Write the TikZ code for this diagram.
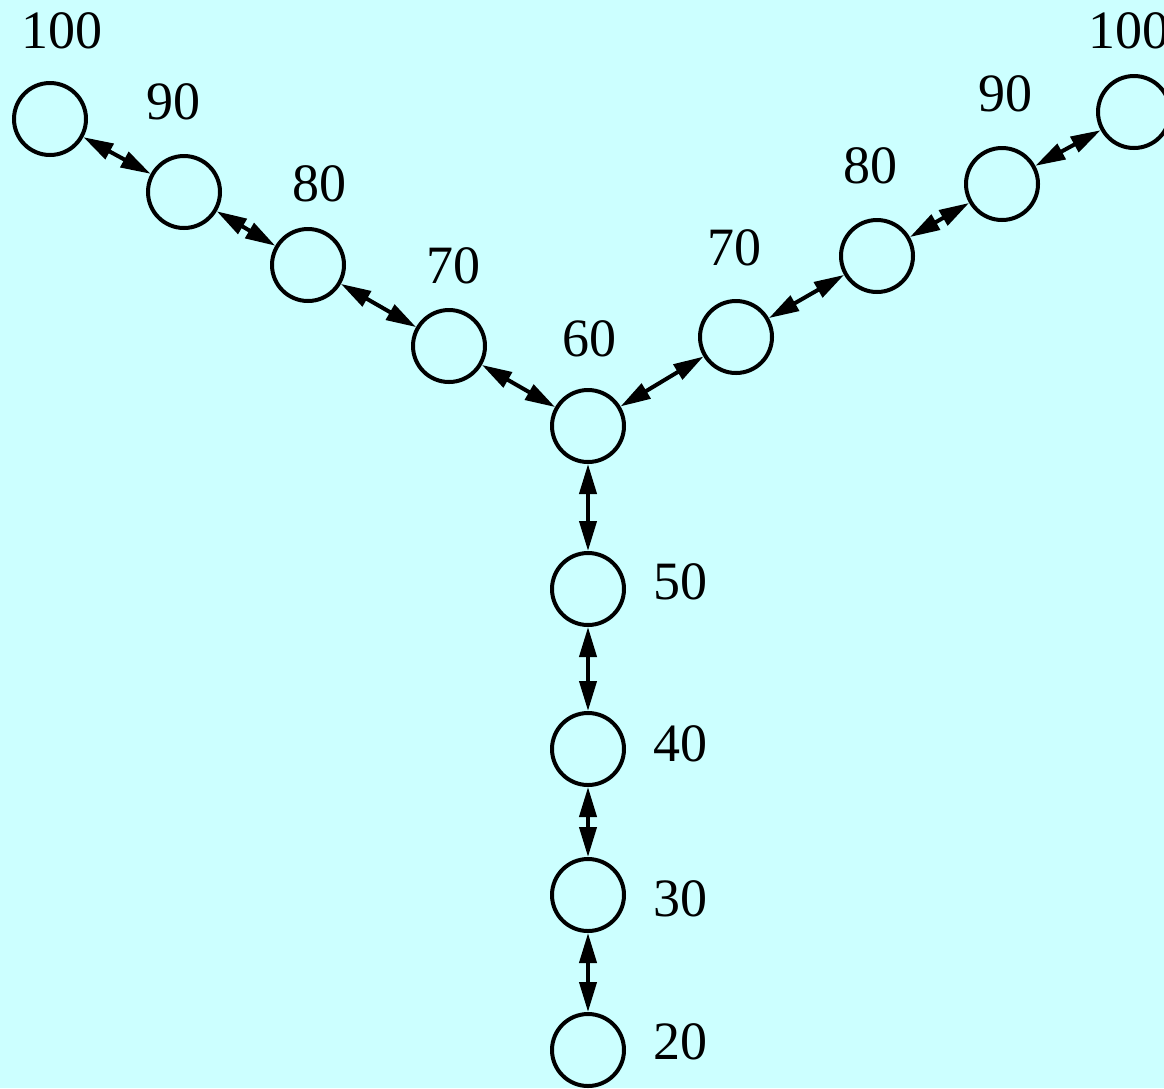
\documentclass[tikz,border=0pt]{standalone}
\usepackage{fontspec}
\setmainfont{Liberation Serif}
\usetikzlibrary{arrows.meta}
\definecolor{bgcyan}{HTML}{CCFFFF}
\tikzset{
  vtx/.style={circle,draw=black,line width=4pt,minimum size=72pt,inner sep=0pt},
  lbl/.style={inner sep=0pt,font=\fontsize{54}{60}\selectfont},
  link/.style={line width=4pt,{Triangle[length=30pt,width=17pt]}-{Triangle[length=30pt,width=17pt]}}
}
\begin{document}
\begin{tikzpicture}[x=1pt,y=-1pt]
\fill[bgcyan] (0,0) rectangle (1164,1088);
\useasboundingbox (0,0) rectangle (1164,1088);
% left branch
\node[vtx] (l100) at (50,119) {};
\node[vtx] (l90) at (184,192) {};
\node[vtx] (l80) at (308,265) {};
\node[vtx] (l70) at (449,346) {};
\node[vtx] (c60) at (588,426) {};
% right branch
\node[vtx] (r70) at (736,337) {};
\node[vtx] (r80) at (877,256) {};
\node[vtx] (r90) at (1002,184) {};
\node[vtx] (r100) at (1134,112) {};
% stem
\node[vtx] (s50) at (588,589) {};
\node[vtx] (s40) at (588,749) {};
\node[vtx] (s30) at (588,895) {};
\node[vtx] (s20) at (588,1050) {};
% labels
\node[lbl] (tl100) at (62,31) {100};
\node[lbl] (tl90) at (173,102) {90};
\node[lbl] (tl80) at (319,184) {80};
\node[lbl] (tl70) at (453,266) {70};
\node[lbl] (t60) at (589,339) {60};
\node[lbl] (tr70) at (734,248) {70};
\node[lbl] (tr80) at (870,166) {80};
\node[lbl] (tr90) at (1005,94) {90};
\node[lbl] (tr100) at (1129,31) {100};
\node[lbl] (t50) at (680,582) {50};
\node[lbl] (t40) at (680,744) {40};
\node[lbl] (t30) at (680,899) {30};
\node[lbl] (t20) at (680,1042) {20};
% connectors
\draw[link] (l100) -- (l90);
\draw[link] (l90) -- (l80);
\draw[link] (l80) -- (l70);
\draw[link] (l70) -- (c60);
\draw[link] (c60) -- (r70);
\draw[link] (r70) -- (r80);
\draw[link] (r80) -- (r90);
\draw[link] (r90) -- (r100);
\draw[link] (c60) -- (s50);
\draw[link] (s50) -- (s40);
\draw[link] (s40) -- (s30);
\draw[link] (s30) -- (s20);
\end{tikzpicture}
\end{document}
